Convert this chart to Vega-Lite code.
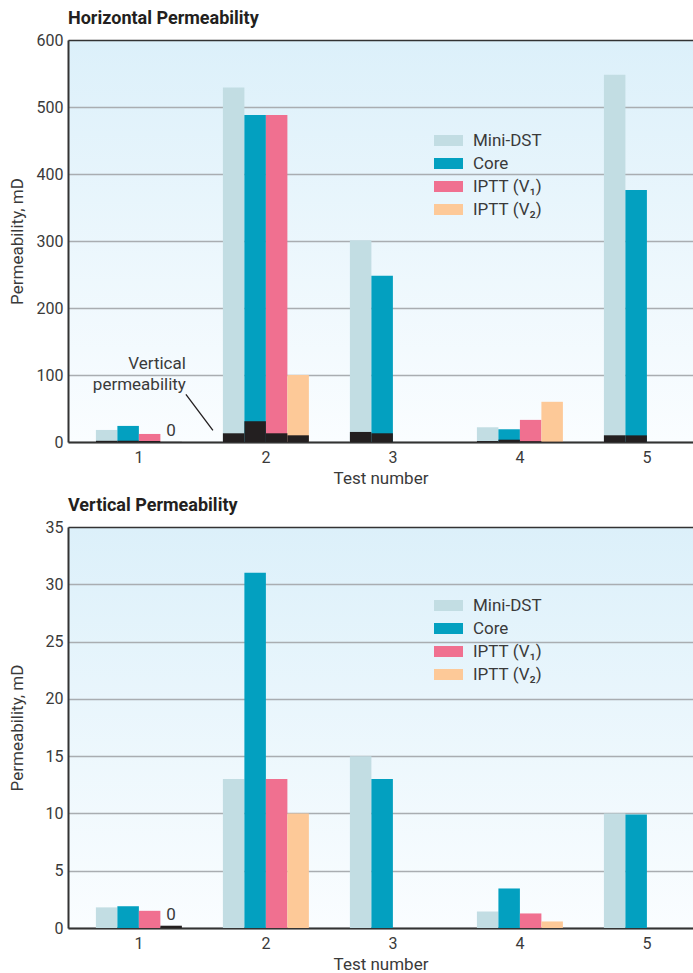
{
  "$schema": "https://vega.github.io/schema/vega-lite/v6.json",
  "padding": {"left": 8, "top": 10, "right": 0, "bottom": 0},
  "background": "#ffffff",
  "spacing": 11,
  "datasets": {
    "perm": [
      {"test": "1", "series": "Mini-DST", "horizontal": 18, "vertical": 1.8},
      {"test": "1", "series": "Core", "horizontal": 24, "vertical": 1.9},
      {"test": "1", "series": "IPTT (V₁)", "horizontal": 12, "vertical": 1.5},
      {"test": "1", "series": "IPTT (V₂)", "horizontal": 0, "vertical": 0.2},
      {"test": "2", "series": "Mini-DST", "horizontal": 529, "vertical": 13},
      {"test": "2", "series": "Core", "horizontal": 488, "vertical": 31},
      {"test": "2", "series": "IPTT (V₁)", "horizontal": 488, "vertical": 13},
      {"test": "2", "series": "IPTT (V₂)", "horizontal": 100, "vertical": 10},
      {"test": "3", "series": "Mini-DST", "horizontal": 301, "vertical": 15},
      {"test": "3", "series": "Core", "horizontal": 248, "vertical": 13},
      {"test": "4", "series": "Mini-DST", "horizontal": 22, "vertical": 1.44},
      {"test": "4", "series": "Core", "horizontal": 19, "vertical": 3.45},
      {"test": "4", "series": "IPTT (V₁)", "horizontal": 33, "vertical": 1.27},
      {"test": "4", "series": "IPTT (V₂)", "horizontal": 60, "vertical": 0.57},
      {"test": "5", "series": "Mini-DST", "horizontal": 548, "vertical": 10},
      {"test": "5", "series": "Core", "horizontal": 376, "vertical": 9.9}
    ],
    "note": [
      {"test": "2", "label": "Vertical\npermeability", "ylabel": 117, "ystart": 71, "yend": 17.5}
    ]
  },
  "config": {
    "font": "Liberation Sans Narrow, Roboto, sans-serif",
    "view": {
      "stroke": null,
      "fill": {"gradient": "linear", "x1": 0, "y1": 0, "x2": 0, "y2": 1,
        "stops": [{"offset": 0, "color": "#dcf0fa"}, {"offset": 1, "color": "#fafdff"}]}
    },
    "title": {"fontSize": 18, "fontWeight": "bold", "anchor": "start", "frame": "group", "color": "#231f20", "offset": 0},
    "axis": {
      "labelFontSize": 16, "titleFontSize": 17, "labelColor": "#3a3a3a", "titleColor": "#3a3a3a",
      "titleFontWeight": "normal", "domainColor": "#333333", "domainWidth": 2, "ticks": false,
      "gridColor": "#a9adb1", "gridWidth": 1.5
    },
    "axisX": {"grid": false, "labelPadding": 7, "labelAngle": 0, "titlePadding": 5},
    "axisY": {"labelPadding": 5, "titlePadding": 10},
    "legend": {
      "orient": "none", "title": null, "symbolType": "M-1,-0.38H1V0.38H-1Z", "symbolSize": 841,
      "labelFontSize": 17, "labelColor": "#3a3a3a", "rowPadding": 0, "labelOffset": 10,
      "symbolStrokeWidth": 0, "padding": 0
    },
    "bar": {"stroke": null}
  },
  "resolve": {"scale": {"color": "independent"}, "legend": {"color": "independent"}},
  "vconcat": [
    {
      "title": {"text": "Horizontal Permeability"},
      "width": 625,
      "height": 402,
      "layer": [
        {
          "data": {"name": "perm"},
          "mark": {"type": "bar"},
          "encoding": {
            "x": {"field": "test", "type": "nominal", "title": "Test number",
              "scale": {"paddingInner": 0.323, "paddingOuter": 0.122, "align": 0.9}},
            "xOffset": {"field": "series", "type": "nominal",
              "scale": {"domain": ["Mini-DST", "Core", "IPTT (V₁)", "IPTT (V₂)"], "paddingInner": 0, "paddingOuter": 0}},
            "y": {"field": "horizontal", "type": "quantitative", "title": "Permeability, mD",
              "scale": {"domain": [0, 600], "nice": false},
              "axis": {"values": [0, 100, 200, 300, 400, 500, 600],
                "gridColor": {"condition": {"test": "datum.value === 600", "value": "#333333"}, "value": "#a9adb1"}}},
            "color": {"field": "series", "type": "nominal",
              "scale": {"domain": ["Mini-DST", "Core", "IPTT (V₁)", "IPTT (V₂)"],
                "range": ["#c2dde3", "#03a0c0", "#f07090", "#fdc998"]},
              "legend": {"legendX": 366, "legendY": 86}}
          }
        },
        {
          "data": {"name": "perm"},
          "mark": {"type": "bar", "color": "#231f20"},
          "encoding": {
            "x": {"field": "test", "type": "nominal", "title": "Test number"},
            "xOffset": {"field": "series", "type": "nominal"},
            "y": {"field": "vertical", "type": "quantitative", "title": "Permeability, mD"}
          }
        },
        {
          "data": {"name": "perm"},
          "transform": [{"filter": "datum.horizontal === 0"}],
          "mark": {"type": "text", "fontSize": 17, "color": "#3a3a3a", "baseline": "alphabetic", "dy": -6},
          "encoding": {
            "x": {"field": "test", "type": "nominal", "title": "Test number"},
            "xOffset": {"field": "series", "type": "nominal"},
            "y": {"field": "horizontal", "type": "quantitative", "title": "Permeability, mD"},
            "text": {"field": "horizontal", "type": "quantitative", "format": ".0f"}
          }
        },
        {
          "data": {"name": "note"},
          "mark": {"type": "text", "fontSize": 17, "color": "#3a3a3a", "align": "right", "baseline": "middle",
            "dx": -80, "lineBreak": "\n", "lineHeight": 21},
          "encoding": {
            "x": {"field": "test", "type": "nominal", "title": "Test number"},
            "y": {"field": "ylabel", "type": "quantitative", "title": "Permeability, mD"},
            "text": {"field": "label"}
          }
        },
        {
          "data": {"name": "note"},
          "mark": {"type": "rule", "color": "#231f20", "strokeWidth": 1.3, "xOffset": -80, "x2Offset": -53},
          "encoding": {
            "x": {"field": "test", "type": "nominal", "title": "Test number"},
            "x2": {"field": "test"},
            "y": {"field": "ystart", "type": "quantitative", "title": "Permeability, mD"},
            "y2": {"field": "yend"}
          }
        }
      ]
    },
    {
      "title": {"text": "Vertical Permeability"},
      "width": 625,
      "height": 401,
      "layer": [
        {
          "data": {"name": "perm"},
          "mark": {"type": "bar"},
          "encoding": {
            "x": {"field": "test", "type": "nominal", "title": "Test number",
              "scale": {"paddingInner": 0.323, "paddingOuter": 0.122, "align": 0.9}},
            "xOffset": {"field": "series", "type": "nominal",
              "scale": {"domain": ["Mini-DST", "Core", "IPTT (V₁)", "IPTT (V₂)"], "paddingInner": 0, "paddingOuter": 0}},
            "y": {"field": "vertical", "type": "quantitative", "title": "Permeability, mD",
              "scale": {"domain": [0, 35], "nice": false},
              "axis": {"values": [0, 5, 10, 15, 20, 25, 30, 35], "titlePadding": 19,
                "gridColor": {"condition": {"test": "datum.value === 35", "value": "#333333"}, "value": "#a9adb1"}}},
            "color": {"field": "series", "type": "nominal",
              "condition": {"test": "datum.test === '1' && datum.series === 'IPTT (V₂)'", "value": "#231f20"},
              "scale": {"domain": ["Mini-DST", "Core", "IPTT (V₁)", "IPTT (V₂)"],
                "range": ["#c2dde3", "#03a0c0", "#f07090", "#fdc998"]},
              "legend": {"legendX": 366, "legendY": 64}}
          }
        },
        {
          "data": {"name": "perm"},
          "transform": [{"filter": "datum.horizontal === 0"}],
          "mark": {"type": "text", "fontSize": 17, "color": "#3a3a3a", "baseline": "alphabetic", "dy": -6},
          "encoding": {
            "x": {"field": "test", "type": "nominal", "title": "Test number"},
            "xOffset": {"field": "series", "type": "nominal"},
            "y": {"field": "vertical", "type": "quantitative", "title": "Permeability, mD"},
            "text": {"field": "horizontal", "type": "quantitative", "format": ".0f"}
          }
        }
      ]
    }
  ]
}
